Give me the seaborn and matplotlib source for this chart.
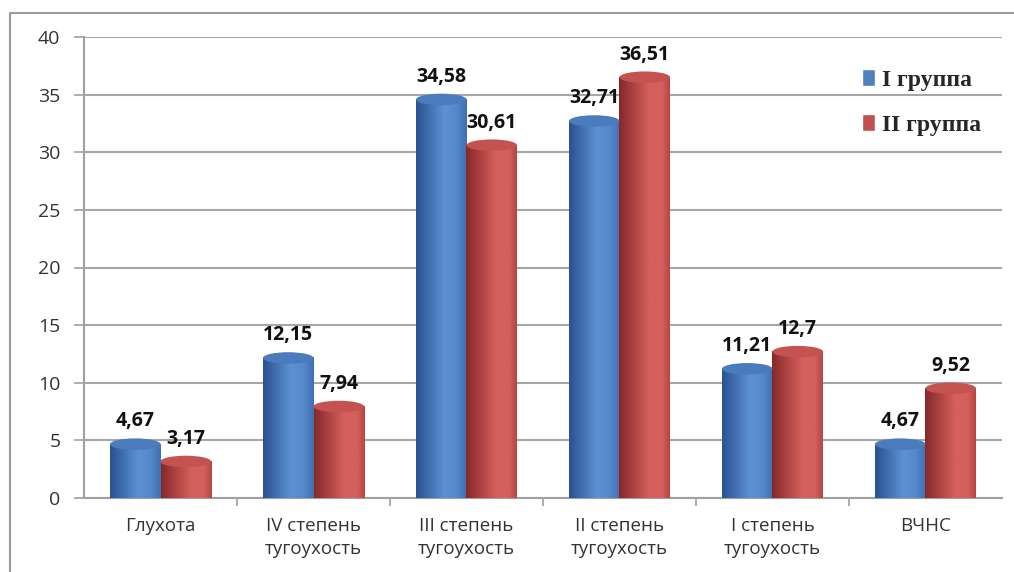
import numpy as np
import pandas as pd
import matplotlib
matplotlib.use('Agg')
import matplotlib.pyplot as plt
import seaborn as sns
from matplotlib.patches import Ellipse, Patch
from matplotlib.colors import LinearSegmentedColormap
from matplotlib.lines import Line2D

# data
categories = ['Глухота', 'IV степень\nтугоухость', 'III степень\nтугоухость',
              'II степень\nтугоухость', 'I степень\nтугоухость', 'ВЧНС']
group_1 = [4.67, 12.15, 34.58, 32.71, 11.21, 4.67]
group_2 = [3.17, 7.94, 30.61, 36.51, 12.7, 9.52]
series_names = ['I группа', 'II группа']
y_ticks = [0, 5, 10, 15, 20, 25, 30, 35, 40]

blue, red = '#4f81bd', '#c0504d'

df = pd.DataFrame({
    'category': categories * 2,
    'value': group_1 + group_2,
    'group': [series_names[0]] * len(categories) + [series_names[1]] * len(categories),
})

sns.set_style('white')
plt.rcParams['font.family'] = ['Open Sans', 'DejaVu Sans']

fig = plt.figure(figsize=(10.14, 5.72), dpi=100)
ax = fig.add_axes([84 / 1014, 1 - 498 / 572, 918 / 1014, 461 / 572])

sns.barplot(data=df, x='category', y='value', hue='group', palette=[blue, red],
            width=0.66, saturation=1, legend=False, ax=ax)

# cylinder look: horizontal shading over each bar plus an elliptic top
cmaps = {
    blue: LinearSegmentedColormap.from_list('b', [(0, '#2a5190'), (0.55, '#5c91d4'),
                                                  (0.8, '#5589cc'), (1, '#3f70b1')]),
    red: LinearSegmentedColormap.from_list('r', [(0, '#86282a'), (0.6, '#d6605c'),
                                                 (0.85, '#d3605c'), (1, '#b54543')]),
}
tops = {blue: '#4a7bbd', red: '#c4524f'}
grad = np.linspace(0, 1, 200).reshape(1, -1)
values = group_1 + group_2
for i, p in enumerate(ax.patches[:len(values)]):
    col = blue if i < len(categories) else red
    x0, w, h = p.get_x(), p.get_width(), p.get_height()
    p.set_visible(False)
    ax.imshow(grad, extent=[x0, x0 + w, 0, h], aspect='auto', cmap=cmaps[col], zorder=3)
    ax.add_patch(Ellipse((x0 + w / 2, h), w, 1.0, facecolor=tops[col],
                         edgecolor='none', zorder=4))
    label = f'{values[i]:g}'.replace('.', ',')
    ax.annotate(label, (x0 + w / 2, h + 0.5), xytext=(0, 5), textcoords='offset points',
                ha='center', va='bottom', fontsize=14, fontweight='bold',
                color='#111111', zorder=5)

ax.set_xlim(-0.5, len(categories) - 0.5)
ax.set_ylim(0, 40)
ax.set_yticks(y_ticks)
ax.yaxis.grid(True, color='#a6a6a6', linewidth=1.5, zorder=0)
ax.set_axisbelow(True)
ax.set_xlabel('')
ax.set_ylabel('')

for s in ['top', 'right']:
    ax.spines[s].set_visible(False)
for s in ['left', 'bottom']:
    ax.spines[s].set_color('#a0a0a0')
    ax.spines[s].set_linewidth(1.5)

ax.tick_params(axis='y', length=7, width=1.2, color='#a0a0a0', pad=10,
               labelsize=14, labelcolor='#333333', direction='out', left=True)
ax.set_xticks(range(len(categories)))
ax.set_xticklabels(categories, fontsize=13.5, color='#333333', linespacing=1.35)
ax.set_xticks(np.arange(0.5, len(categories) - 0.5, 1), minor=True)
ax.tick_params(axis='x', which='major', length=0, pad=14)
ax.tick_params(axis='x', which='minor', length=6, width=1.2, color='#a0a0a0',
               direction='out', bottom=True)

handles = [Patch(facecolor=blue, label=series_names[0]),
           Patch(facecolor=red, label=series_names[1])]
fig.legend(handles=handles, loc='upper left', bbox_to_anchor=(841 / 1014, 1 - 48 / 572),
           frameon=False, handlelength=0.55, handleheight=0.7, handletextpad=0.3,
           labelspacing=1.0, prop={'family': 'Liberation Serif', 'weight': 'bold', 'size': 17})

# outer frame of the picture
fig.add_artist(Line2D([10 / 1014, 10 / 1014, 1], [0, 1 - 13 / 572, 1 - 13 / 572],
                      transform=fig.transFigure, color='#9a9a9a', linewidth=1.5))

fig.savefig('out.png', dpi=100)
